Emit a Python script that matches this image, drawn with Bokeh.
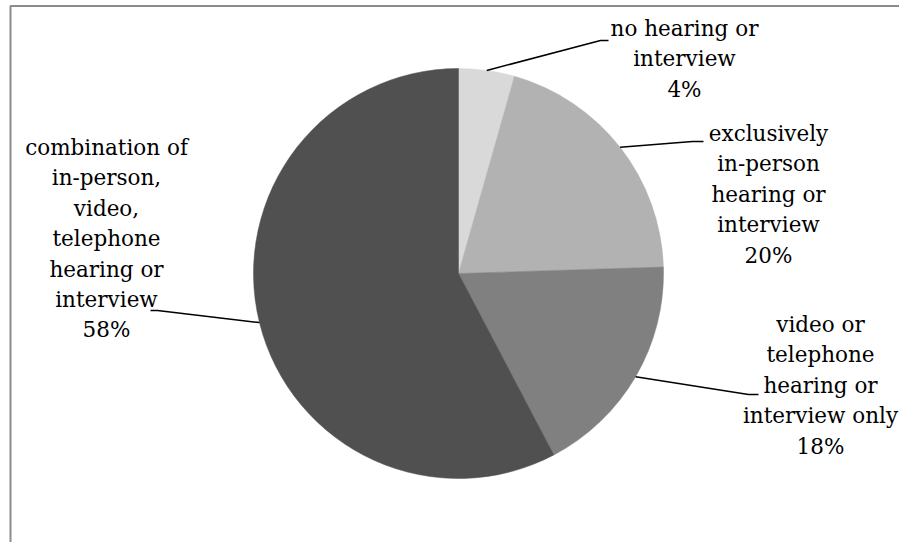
import math
from bokeh.plotting import figure
from bokeh.models import Range1d, ColumnDataSource
from bokeh.core.properties import value
from bokeh.embed import file_html
from bokeh.resources import INLINE

# ---- data ----
categories = [
    ["no hearing or", "interview"],
    ["exclusively", "in-person", "hearing or", "interview"],
    ["video or", "telephone", "hearing or", "interview only"],
    ["combination of", "in-person,", "video,", "telephone", "hearing or", "interview"],
]
shares = [4.4, 20.1, 17.8, 57.7]
colors = ["#d9d9d9", "#b2b2b2", "#808080", "#505050"]

# ---- layout (pixel coords from top-left) ----
W, H = 899, 542
CX, CY, R = 458, 273, 205
LINE_STEP = 30.4
label_anchor = [(684, 28), (768, 133), (820, 324), (106, 147)]  # center x, first baseline
elbow_pts = [[(600, 40), (608, 40)],
             [(692, 141), (703, 141)],
             [(748, 394), (758, 394)],
             [(157, 310), (150, 310)]]

def fy(y):
    return H - y

p = figure(width=W, height=H, x_range=Range1d(0, W), y_range=Range1d(0, H),
           output_backend="svg", toolbar_location=None, min_border=0)
p.axis.visible = False
p.grid.visible = False
p.outline_line_color = None
p.background_fill_color = "white"

# frame border
p.quad(left=[10], right=[W + 20], top=[fy(5.5)], bottom=[fy(H + 20)],
       fill_alpha=0, line_color="#8c8c8c", line_width=2)

total = sum(shares)
cum = 0.0
starts, ends, mids = [], [], []
for s in shares:
    a0 = cum / total * 2 * math.pi
    cum += s
    a1 = cum / total * 2 * math.pi
    starts.append(a0); ends.append(a1); mids.append((a0 + a1) / 2)

# Bokeh angle: counterclockwise from +x; chart: clockwise from 12 o'clock
src = ColumnDataSource(dict(
    x=[CX] * 4, y=[fy(CY)] * 4,
    start=[math.pi / 2 - e for e in ends],
    end=[math.pi / 2 - s for s in starts],
    color=colors,
))
p.wedge(x="x", y="y", radius=R, start_angle="start", end_angle="end",
        fill_color="color", line_color="color", line_width=0.5, source=src)

# leader lines
xs, ys = [], []
for m, el in zip(mids, elbow_pts):
    ex = CX + R * math.sin(m)
    ey = CY - R * math.cos(m)
    pts = [(ex, ey)] + el
    xs.append([pt[0] for pt in pts])
    ys.append([fy(pt[1]) for pt in pts])
p.multi_line(xs=xs, ys=ys, line_color="black", line_width=1.5)

# labels (one text item per line)
tx, ty, tt = [], [], []
for lines, s, (ax, ay) in zip(categories, shares, label_anchor):
    all_lines = lines + [f"{round(s)}%"]
    for i, ln in enumerate(all_lines):
        tx.append(ax)
        ty.append(fy(ay + i * LINE_STEP))
        tt.append(ln)
p.text(x=tx, y=ty, text=tt,
       text_font=value("DejaVu Serif"), text_font_size="21.5px",
       text_align="center", text_baseline="alphabetic", text_color="black")

open("out.html", "w").write(file_html(p, INLINE))
